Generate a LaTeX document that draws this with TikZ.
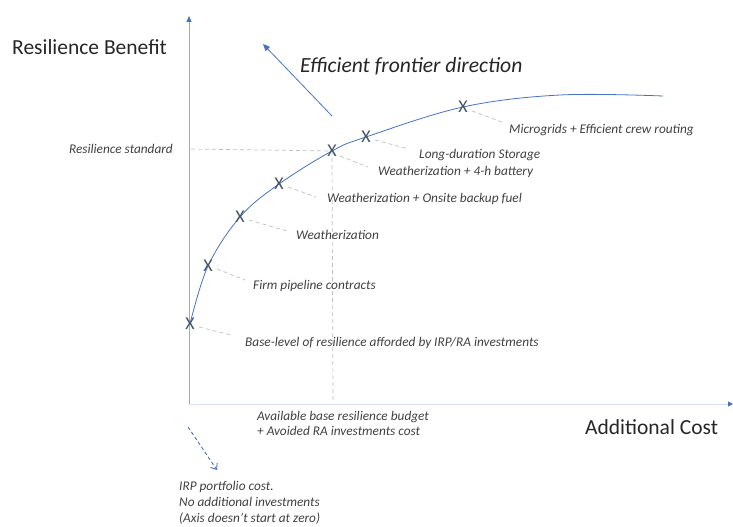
\documentclass[tikz,border=0pt]{standalone}
\usepackage{fontspec}
\setmainfont{Carlito}
\usetikzlibrary{arrows.meta}
\definecolor{axisblue}{HTML}{8FAADC}
\definecolor{axislight}{HTML}{DAE3F3}
\definecolor{curveblue}{HTML}{4472C4}
\definecolor{xmark}{HTML}{44546A}
\definecolor{guide}{HTML}{BFBFBF}
\definecolor{labeltext}{HTML}{404040}
\definecolor{titletext}{HTML}{262626}
\tikzset{
  bigtitle/.style={inner sep=0pt, anchor=base west, text=titletext, font=\fontsize{21.5}{24}\selectfont},
  smalllabel/.style={inner sep=0pt, anchor=base west, text=labeltext, font=\fontsize{13.3}{16}\selectfont\itshape, align=left},
  xnode/.style={inner sep=0pt, text=xmark, font=\fontsize{18}{18}\selectfont},
  leader/.style={draw=guide, dash pattern=on 4pt off 3pt, line width=0.7pt},
  guideline/.style={draw=guide, dash pattern=on 4pt off 3pt, line width=0.7pt},
}
\begin{document}
\begin{tikzpicture}[x=1pt,y=-1pt]
\useasboundingbox (0,0) rectangle (733,527);
% axes
\coordinate (origin) at (189,404);
\coordinate (ytop) at (189,16);
\coordinate (xend) at (733,404);
\draw[axislight, line width=1pt, -{Triangle[length=5pt,width=5pt,color=curveblue]}] (origin) -- (xend);
\draw[axisblue, line width=0.9pt, -{Triangle[length=6pt,width=5pt,color=curveblue]}] (origin) -- (ytop);
% axis titles
\node[bigtitle] (ytitle) at (12,55) {Resilience Benefit};
\node[bigtitle] (xtitle) at (585,434) {Additional Cost};
% efficient frontier arrow
\coordinate (effA) at (332,116);
\coordinate (effB) at (263,44);
\draw[curveblue, line width=0.8pt, -{Triangle[length=7pt,width=6pt]}] (effA) -- (effB);
\node[inner sep=0pt, anchor=base west, text=titletext, font=\fontsize{21.6}{24}\selectfont\itshape] (efftitle) at (300,72) {Efficient frontier direction};
% curve points
\coordinate (c1) at (190,324);
\coordinate (c2) at (208,266);
\coordinate (c3) at (240,217);
\coordinate (c4) at (279,184);
\coordinate (c5) at (332,151);
\coordinate (c6) at (366,137);
\coordinate (c7) at (463,107);
\coordinate (c8) at (560,95);
\coordinate (c9) at (663,96);
% guides for resilience standard and budget
\coordinate (stdleft) at (191,149);
\coordinate (budgetbottom) at (333,403);
\draw[guideline] (stdleft) -- (c5);
\draw[guideline] (c5) -- (budgetbottom);
% frontier curve
\draw[curveblue, line width=0.8pt] plot[smooth, tension=0.6] coordinates {(c1) (c2) (c3) (c4) (c5) (c6) (c7) (c8) (c9)};
% X marks
\node[xnode] (x1) at (c1) {X};
\node[xnode] (x2) at (c2) {X};
\node[xnode] (x3) at (c3) {X};
\node[xnode] (x4) at (c4) {X};
\node[xnode] (x5) at (c5) {X};
\node[xnode] (x6) at (c6) {X};
\node[xnode] (x7) at (c7) {X};
% labels
\node[smalllabel] (l1) at (245,346) {Base-level of resilience afforded by IRP/RA investments};
\node[smalllabel] (l2) at (253,289) {Firm pipeline contracts};
\node[smalllabel] (l3) at (296,239) {Weatherization};
\node[smalllabel] (l4) at (327,202) {Weatherization + Onsite backup fuel};
\node[smalllabel] (l5) at (378,175) {Weatherization + 4-h battery};
\node[smalllabel] (l6) at (419,158) {Long-duration Storage};
\node[smalllabel] (l7) at (509,133) {Microgrids + Efficient crew routing};
% leader lines
\coordinate (e1) at (231,335);
\coordinate (e2) at (245,280);
\coordinate (e3) at (287,231);
\coordinate (e4) at (316,197);
\coordinate (e5) at (368,167);
\coordinate (e6) at (409,149);
\coordinate (e7) at (502,122);
\draw[leader] ([shift={(9pt,-3pt)}]c1) -- (e1);
\draw[leader] ([shift={(9pt,-3pt)}]c2) -- (e2);
\draw[leader] ([shift={(9pt,-3pt)}]c3) -- (e3);
\draw[leader] ([shift={(9pt,-3pt)}]c4) -- (e4);
\draw[leader] ([shift={(8pt,-5pt)}]c5) -- (e5);
\draw[leader] ([shift={(9pt,-3pt)}]c6) -- (e6);
\draw[leader] ([shift={(9pt,-4pt)}]c7) -- (e7);
% resilience standard
\node[inner sep=0pt, anchor=base east, text=labeltext, font=\fontsize{13.3}{16}\selectfont\itshape] (stdlabel) at (173,153) {Resilience standard};
% budget label
\node[smalllabel, font=\fontsize{13.3}{15}\selectfont\itshape, anchor=north west] (budget) at (257,411) {Available base resilience budget\\+ Avoided RA investments cost};
% IRP portfolio note
\coordinate (irpA) at (188,427);
\coordinate (irpB) at (217,470);
\draw[curveblue, line width=0.9pt, dash pattern=on 3.5pt off 2.5pt, -{Straight Barb[length=5pt,width=8pt]}] (irpA) -- (irpB);
\node[smalllabel, font=\fontsize{13.3}{16}\selectfont\itshape, anchor=north west] (irp) at (179,481) {IRP portfolio cost.\\No additional investments\\(Axis doesn’t start at zero)};
\end{tikzpicture}
\end{document}
